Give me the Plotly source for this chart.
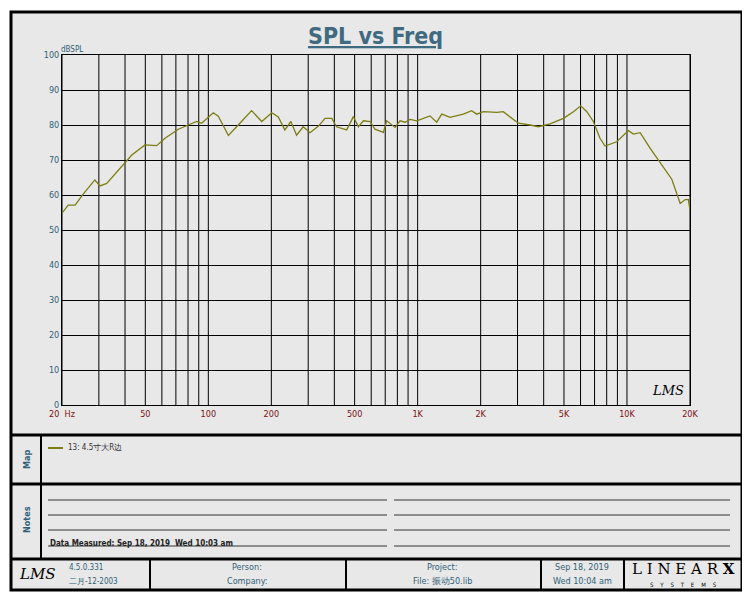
import plotly.graph_objects as go

freq = [20, 21.4, 23.1, 25.3, 28.7, 30.4, 32.7, 37.2, 43.1, 49.8, 56.7, 62.1, 71.9, 80.2, 88.0,
        92.9, 105.6, 111.6, 124.7, 139, 161, 180, 201, 216, 232, 248, 264, 284, 306, 336, 361,
        389, 410, 458, 493, 521, 551, 593, 625, 686, 711, 780, 824, 871, 920, 991, 1146, 1233,
        1304, 1429, 1652, 1812, 1915, 2061, 2387, 2565, 2762, 3027, 3445, 3775, 4295, 4968,
        5546, 6013, 6428, 6905, 7430, 7855, 8934, 10160, 10740, 11560, 12910, 14940, 16370,
        17950, 18970, 19650, 20000]
spl = [54.8, 57.1, 57.1, 60.3, 64.3, 62.6, 63.3, 67.1, 71.4, 74.3, 74.1, 76.2, 78.8, 80.0, 81.0,
       80.5, 83.5, 82.5, 77.0, 80.0, 84.1, 81.0, 83.5, 82.3, 78.6, 81.0, 77.1, 79.5, 77.8, 79.7,
       81.9, 81.9, 79.5, 78.6, 82.4, 79.5, 81.2, 81.0, 78.8, 77.9, 81.2, 79.3, 81.2, 80.8, 81.6,
       81.2, 82.6, 80.8, 83.1, 82.2, 83.1, 84.1, 83.1, 83.8, 83.6, 83.8, 82.4, 80.5, 80.0, 79.5,
       80.3, 81.9, 83.8, 85.5, 83.8, 81.0, 76.2, 74.0, 75.2, 78.4, 77.4, 77.8, 73.3, 68.1, 64.5,
       57.6, 58.7, 58.7, 55.7]

xtick_vals = [20, 50, 100, 200, 500, 1000, 2000, 5000, 10000, 20000]
xtick_text = ["20  Hz", "50", "100", "200", "500", "1K", "2K", "5K", "10K", "20K"]
grid_freqs = [m * 10 ** d for d in (1, 2, 3, 4) for m in range(1, 10)
              if 20 <= m * 10 ** d <= 20000]

W, H = 750, 600
OFF = 8  # page body margin
def px(x):
    return (x - OFF) / W
def py(y):
    return 1 - (y - OFF) / H

BLUE = "#2f5f78"
RED = "#7a1010"
BG = "#e8e8e8"
FONT = "DejaVu Sans Condensed, Liberation Sans, sans-serif"

fig = go.Figure()
fig.add_trace(go.Scatter(x=freq, y=spl, mode="lines",
                         line=dict(color="#7d7d12", width=1.3), showlegend=False))

shapes = []
# outer frame and panels
shapes.append(dict(type="rect", xref="paper", yref="paper", x0=px(11), x1=px(742),
                   y0=py(590), y1=py(12), line=dict(color="black", width=3), fillcolor=BG, layer="below"))
for y in (435, 484, 559):
    shapes.append(dict(type="line", xref="paper", yref="paper", x0=px(11), x1=px(742),
                       y0=py(y), y1=py(y), line=dict(color="black", width=3)))
shapes.append(dict(type="line", xref="paper", yref="paper", x0=px(41), x1=px(41),
                   y0=py(559), y1=py(435), line=dict(color="black", width=2)))
for x in (150, 346, 541, 624):
    shapes.append(dict(type="line", xref="paper", yref="paper", x0=px(x), x1=px(x),
                       y0=py(590), y1=py(559), line=dict(color="black", width=2)))
# vertical grid lines
for f in grid_freqs:
    shapes.append(dict(type="line", xref="x", yref="paper", x0=f, x1=f,
                       y0=py(405), y1=py(55), line=dict(color="black", width=1), layer="below"))
# notes lines
for y in (500, 515, 530, 546):
    for a, b in ((48, 387), (394, 730)):
        shapes.append(dict(type="line", xref="paper", yref="paper", x0=px(a), x1=px(b),
                           y0=py(y), y1=py(y), line=dict(color="#333", width=1)))
# legend sample
shapes.append(dict(type="line", xref="paper", yref="paper", x0=px(48), x1=px(63),
                   y0=py(448), y1=py(448), line=dict(color="#7d7d12", width=2)))

def ann(x, y, text, size=9, color=BLUE, family=FONT, xanchor="center", **kw):
    return dict(xref="paper", yref="paper", x=px(x), y=py(y), text=text, showarrow=False,
                xanchor=xanchor, yanchor="middle",
                font=dict(size=size, color=color, family=family), **kw)

anns = [
    ann(375, 36, "<b><u>SPL vs Freq</u></b>", size=23, color="#3f6a80"),
    ann(59, 49, "dBSPL", size=8, xanchor="left"),
    ann(668, 390, "<i>LMS</i>", size=13, color="black", family="DejaVu Serif"),
    ann(66, 448, "13: 4.5寸大R边", size=8, color="#333", xanchor="left"),
    ann(27, 459, "<b>Map</b>", size=9, textangle=-90),
    ann(27, 520, "<b>Notes</b>", size=9, textangle=-90),
    ann(48, 543, "<b>Data Measured: Sep 18, 2019  Wed 10:03 am</b>", size=8, color="#222", xanchor="left"),
    ann(37, 574, "<i>LMS</i>", size=15, color="black", family="DejaVu Serif"),
    ann(67, 567, "4.5.0.331", size=8, xanchor="left"),
    ann(67, 581, "二月-12-2003", size=8, xanchor="left"),
    ann(247, 567, "Person:", size=9),
    ann(247, 581, "Company:", size=9),
    ann(442, 567, "Project:", size=9),
    ann(442, 581, "File: 振动50.lib", size=9),
    ann(582, 567, "Sep 18, 2019", size=9),
    ann(582, 581, "Wed 10:04 am", size=9),
    ann(683, 569, "L I N E A R <b>X</b>", size=15, color="black", family="DejaVu Serif"),
    ann(683, 584, "S    Y    S    T    E    M    S", size=6, color="black"),
]

fig.update_layout(
    width=W, height=H, margin=dict(l=0, r=0, t=0, b=0, autoexpand=False),
    paper_bgcolor="white", plot_bgcolor="white",
    shapes=shapes, annotations=anns,
    xaxis=dict(type="log", range=[1.30103, 4.30103], domain=[px(62), px(690)],
               tickvals=xtick_vals, ticktext=xtick_text, showgrid=False, automargin=False,
               tickfont=dict(size=9, color=RED, family=FONT),
               showline=True, linecolor="black", mirror=True, ticks="", zeroline=False),
    yaxis=dict(range=[0, 100], domain=[py(405), py(55)], dtick=10, automargin=False,
               gridcolor="black", gridwidth=1, showline=True, linecolor="black", mirror=True,
               tickfont=dict(size=9, color=BLUE, family=FONT),
               ticks="", zeroline=False),
)
fig.write_html("out.html")
